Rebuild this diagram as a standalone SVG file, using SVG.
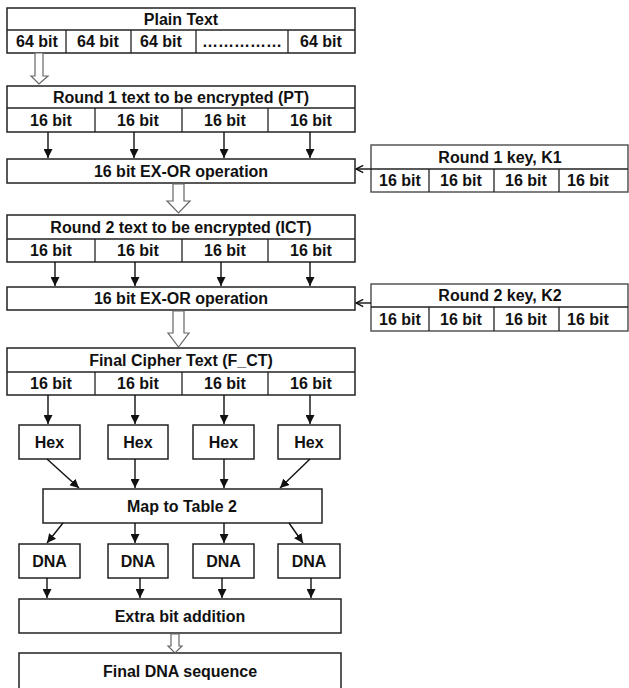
<svg xmlns="http://www.w3.org/2000/svg" width="629" height="688" viewBox="0 0 629 688">
<style>
.b{fill:#fff;stroke:#222;stroke-width:1.5}
.k{fill:#fff;stroke:#555;stroke-width:1.5}
.d{stroke:#222;stroke-width:1.3;fill:none}
.t{font-family:"Liberation Sans",Arial,sans-serif;font-weight:bold;font-size:16px;fill:#111;text-anchor:middle}
.c{stroke:#111;stroke-width:1.4;fill:none}
.h{fill:#fff;stroke:#666;stroke-width:1.2}
</style>
<defs>
<marker id="tri" viewBox="0 0 10 10" refX="10" refY="5" markerWidth="9" markerHeight="9" markerUnits="userSpaceOnUse" orient="auto">
<path d="M0,0 L10,5 L0,10 z" fill="#111"/>
</marker>
<marker id="open" viewBox="0 0 10 10" refX="9" refY="5" markerWidth="9" markerHeight="9" markerUnits="userSpaceOnUse" orient="auto">
<path d="M1,1 L9,5 L1,9" fill="none" stroke="#111" stroke-width="1.6"/>
</marker>
</defs>
<rect width="629" height="688" fill="#fff"/>

<g id="plain-text">
<rect class="b" x="7" y="8" width="348" height="45"/>
<line class="d" x1="7" y1="30" x2="355" y2="30"/>
<line class="d" x1="66" y1="30" x2="66" y2="53"/>
<line class="d" x1="131" y1="30" x2="131" y2="53"/>
<line class="d" x1="196" y1="30" x2="196" y2="53"/>
<line class="d" x1="288" y1="30" x2="288" y2="53"/>
<text class="t" x="181" y="25">Plain Text</text>
<text class="t" x="37" y="47">64 bit</text>
<text class="t" x="98" y="47">64 bit</text>
<text class="t" x="161" y="47">64 bit</text>
<text class="t" x="242" y="47">……………</text>
<text class="t" x="321" y="47">64 bit</text>
</g>

<g id="round1-pt">
<rect class="b" x="7" y="86" width="348" height="46"/>
<line class="d" x1="7" y1="108" x2="355" y2="108"/>
<line class="d" x1="95" y1="108" x2="95" y2="132"/>
<line class="d" x1="182" y1="108" x2="182" y2="132"/>
<line class="d" x1="268" y1="108" x2="268" y2="132"/>
<text class="t" x="181" y="103">Round 1 text to be encrypted (PT)</text>
<text class="t" x="51" y="126">16 bit</text>
<text class="t" x="138" y="126">16 bit</text>
<text class="t" x="225" y="126">16 bit</text>
<text class="t" x="311" y="126">16 bit</text>
</g>

<g id="xor1">
<rect class="b" x="7" y="159" width="348" height="24"/>
<text class="t" x="181" y="177">16 bit EX-OR operation</text>
</g>

<g id="key1">
<rect class="k" x="371" y="145" width="257" height="47"/>
<line class="d" x1="371" y1="169" x2="628" y2="169"/>
<line class="d" x1="429" y1="169" x2="429" y2="192"/>
<line class="d" x1="494" y1="169" x2="494" y2="192"/>
<line class="d" x1="559" y1="169" x2="559" y2="192"/>
<text class="t" x="500" y="163">Round 1 key, K1</text>
<text class="t" x="400" y="186">16 bit</text>
<text class="t" x="461" y="186">16 bit</text>
<text class="t" x="526" y="186">16 bit</text>
<text class="t" x="588" y="186">16 bit</text>
</g>

<g id="round2-ict">
<rect class="b" x="7" y="215" width="348" height="47"/>
<line class="d" x1="7" y1="239" x2="355" y2="239"/>
<line class="d" x1="95" y1="239" x2="95" y2="262"/>
<line class="d" x1="182" y1="239" x2="182" y2="262"/>
<line class="d" x1="268" y1="239" x2="268" y2="262"/>
<text class="t" x="181" y="233">Round 2 text to be encrypted (ICT)</text>
<text class="t" x="51" y="256">16 bit</text>
<text class="t" x="138" y="256">16 bit</text>
<text class="t" x="225" y="256">16 bit</text>
<text class="t" x="311" y="256">16 bit</text>
</g>

<g id="xor2">
<rect class="b" x="7" y="287" width="348" height="23"/>
<text class="t" x="181" y="304">16 bit EX-OR operation</text>
</g>

<g id="key2">
<rect class="k" x="371" y="284" width="257" height="47"/>
<line class="d" x1="371" y1="307" x2="628" y2="307"/>
<line class="d" x1="429" y1="307" x2="429" y2="331"/>
<line class="d" x1="494" y1="307" x2="494" y2="331"/>
<line class="d" x1="559" y1="307" x2="559" y2="331"/>
<text class="t" x="500" y="301">Round 2 key, K2</text>
<text class="t" x="400" y="325">16 bit</text>
<text class="t" x="461" y="325">16 bit</text>
<text class="t" x="526" y="325">16 bit</text>
<text class="t" x="588" y="325">16 bit</text>
</g>

<g id="final-cipher">
<rect class="b" x="7" y="348" width="348" height="47"/>
<line class="d" x1="7" y1="372" x2="355" y2="372"/>
<line class="d" x1="95" y1="372" x2="95" y2="395"/>
<line class="d" x1="182" y1="372" x2="182" y2="395"/>
<line class="d" x1="268" y1="372" x2="268" y2="395"/>
<text class="t" x="181" y="366">Final Cipher Text (F_CT)</text>
<text class="t" x="51" y="389">16 bit</text>
<text class="t" x="138" y="389">16 bit</text>
<text class="t" x="225" y="389">16 bit</text>
<text class="t" x="311" y="389">16 bit</text>
</g>

<g id="hex1"><rect class="b" x="19" y="425" width="61" height="34"/><text class="t" x="49.5" y="448">Hex</text></g>
<g id="hex2"><rect class="b" x="108" y="425" width="60" height="34"/><text class="t" x="138" y="448">Hex</text></g>
<g id="hex3"><rect class="b" x="193" y="425" width="61" height="34"/><text class="t" x="223.5" y="448">Hex</text></g>
<g id="hex4"><rect class="b" x="278" y="425" width="62" height="34"/><text class="t" x="309" y="448">Hex</text></g>

<g id="map-table2">
<rect class="b" x="43" y="489" width="279" height="34"/>
<text class="t" x="182" y="512">Map to Table 2</text>
</g>

<g id="dna1"><rect class="b" x="19" y="544" width="61" height="34"/><text class="t" x="49.5" y="567">DNA</text></g>
<g id="dna2"><rect class="b" x="108" y="544" width="60" height="34"/><text class="t" x="138" y="567">DNA</text></g>
<g id="dna3"><rect class="b" x="193" y="544" width="61" height="34"/><text class="t" x="223.5" y="567">DNA</text></g>
<g id="dna4"><rect class="b" x="278" y="544" width="62" height="34"/><text class="t" x="309" y="567">DNA</text></g>

<g id="extra-bit">
<rect class="b" x="19" y="599" width="322" height="34"/>
<text class="t" x="180" y="622">Extra bit addition</text>
</g>

<g id="final-dna">
<rect class="b" x="19" y="653" width="322" height="40"/>
<text class="t" x="180" y="677">Final DNA sequence</text>
</g>

<g id="connectors">
<polygon class="h" points="35,53 43,53 43,76 48,76 39,84 31,76 35,76"/>
<polygon class="h" points="173,184 184,184 184,201 190,201 178.5,213 167,201 173,201"/>
<polygon class="h" points="173,311 184,311 184,333 189,333 178.5,347 168,333 173,333"/>
<polygon class="h" points="171,634 179,634 179,646 182,646 175,653 168,646 171,646"/>

<line class="c" x1="48" y1="132" x2="48" y2="158" marker-end="url(#tri)"/>
<line class="c" x1="134" y1="132" x2="134" y2="158" marker-end="url(#tri)"/>
<line class="c" x1="224" y1="132" x2="224" y2="158" marker-end="url(#tri)"/>
<line class="c" x1="310" y1="132" x2="310" y2="158" marker-end="url(#tri)"/>
<line class="c" x1="371" y1="169" x2="356" y2="169" marker-end="url(#open)"/>

<line class="c" x1="55" y1="262" x2="55" y2="286" marker-end="url(#tri)"/>
<line class="c" x1="135" y1="262" x2="135" y2="286" marker-end="url(#tri)"/>
<line class="c" x1="221" y1="262" x2="221" y2="286" marker-end="url(#tri)"/>
<line class="c" x1="310" y1="262" x2="310" y2="286" marker-end="url(#tri)"/>
<line class="c" x1="371" y1="303" x2="356" y2="303" marker-end="url(#open)"/>

<line class="c" x1="48" y1="395" x2="48" y2="424" marker-end="url(#tri)"/>
<line class="c" x1="135" y1="395" x2="135" y2="424" marker-end="url(#tri)"/>
<line class="c" x1="224" y1="395" x2="224" y2="424" marker-end="url(#tri)"/>
<line class="c" x1="310" y1="395" x2="310" y2="424" marker-end="url(#tri)"/>

<line class="c" x1="47" y1="459" x2="79" y2="488" marker-end="url(#tri)"/>
<line class="c" x1="135" y1="459" x2="135" y2="488" marker-end="url(#tri)"/>
<line class="c" x1="224" y1="459" x2="224" y2="488" marker-end="url(#tri)"/>
<line class="c" x1="310" y1="459" x2="280" y2="488" marker-end="url(#tri)"/>

<line class="c" x1="63" y1="523" x2="47" y2="543" marker-end="url(#tri)"/>
<line class="c" x1="135" y1="523" x2="135" y2="543" marker-end="url(#tri)"/>
<line class="c" x1="224" y1="523" x2="224" y2="543" marker-end="url(#tri)"/>
<line class="c" x1="289" y1="523" x2="303" y2="543" marker-end="url(#tri)"/>

<line class="c" x1="47" y1="578" x2="47" y2="598" marker-end="url(#tri)"/>
<line class="c" x1="140" y1="578" x2="140" y2="598" marker-end="url(#tri)"/>
<line class="c" x1="222" y1="578" x2="222" y2="598" marker-end="url(#tri)"/>
<line class="c" x1="311" y1="578" x2="311" y2="598" marker-end="url(#tri)"/>
</g>
</svg>
